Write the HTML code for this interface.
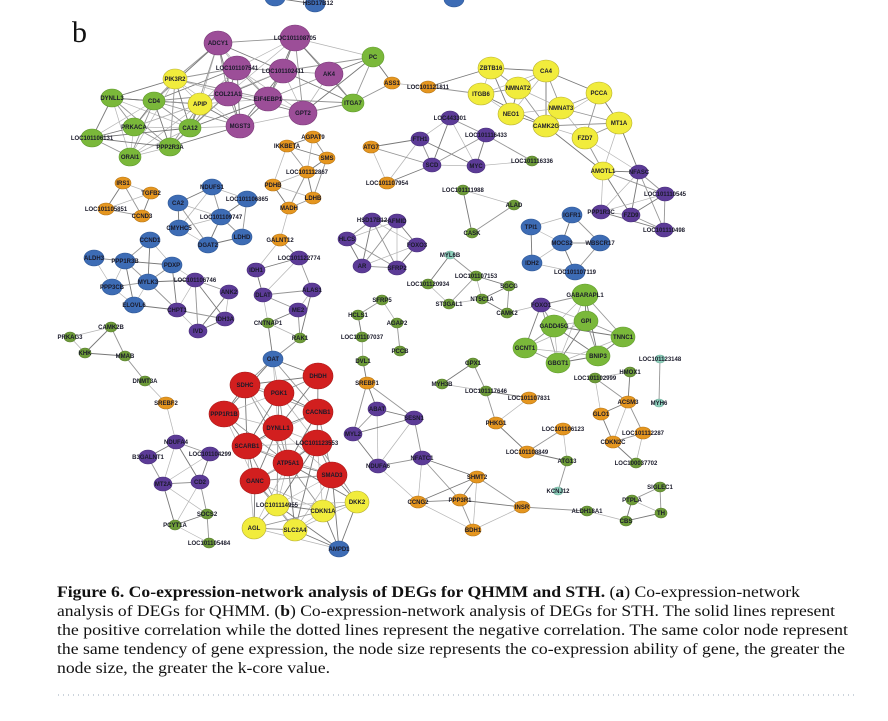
<!DOCTYPE html>
<html><head><meta charset="utf-8"><style>
html,body{margin:0;padding:0;background:#fff;width:888px;height:721px;overflow:hidden}
svg{display:block}
.n text{font-family:"Liberation Sans",sans-serif;font-weight:bold;font-size:6px;fill:#1a1a2a;text-anchor:middle}
ellipse{stroke-width:0.6}
.P{fill:#9c4e98;stroke:#7a3a78}.Y{fill:#f1ec3c;stroke:#b8b030}.G{fill:#7ab83a;stroke:#5f9a2c}
.O{fill:#e5961f;stroke:#b77514}.B{fill:#3d6cb5;stroke:#2c5594}.V{fill:#5c3b97;stroke:#452b78}
.R{fill:#d21f1f;stroke:#a51616}.T{fill:#8fd0bc;stroke:#6fb09c}.D{fill:#6d9b38;stroke:#557c28}
.cap{font-family:"Liberation Serif",serif;font-size:16px;fill:#111}
</style></head><body>
<svg id="s" width="888" height="721" viewBox="0 0 888 721" xmlns="http://www.w3.org/2000/svg">
<g id="edges" stroke="#9a9a9a" stroke-width="0.8" fill="none"></g>
<text x="72" y="42" font-family="Liberation Serif,serif" font-size="30" fill="#111">b</text>
<g class="n" id="top">
<ellipse class="B" cx="275" cy="-2" rx="10" ry="8"/><ellipse class="B" cx="315" cy="4" rx="10" ry="8"/><text x="318" y="5">HSD17B12</text>
<ellipse class="B" cx="454" cy="-1" rx="10" ry="8"/>
</g>
<g class="n" id="k1" data-t="100">
<ellipse class="P" cx="218" cy="43" rx="14" ry="12"/><text x="218" y="45">ADCY1</text>
<ellipse class="P" cx="295" cy="38" rx="15" ry="13"/><text x="295" y="40">LOC101108705</text>
<ellipse class="P" cx="237" cy="68" rx="14" ry="12"/><text x="237" y="70">LOC101107541</text>
<ellipse class="P" cx="283" cy="71" rx="14" ry="12"/><text x="283" y="73">LOC101102411</text>
<ellipse class="P" cx="329" cy="74" rx="14" ry="12"/><text x="329" y="76">AK4</text>
<ellipse class="P" cx="228" cy="94" rx="14" ry="12"/><text x="228" y="96">COL21A1</text>
<ellipse class="P" cx="268" cy="99" rx="14" ry="12"/><text x="268" y="101">EIF4EBP1</text>
<ellipse class="P" cx="303" cy="113" rx="14" ry="12"/><text x="303" y="115">GPT2</text>
<ellipse class="P" cx="240" cy="126" rx="14" ry="12"/><text x="240" y="128">MGST3</text>
<ellipse class="G" cx="373" cy="57" rx="11" ry="10"/><text x="373" y="59">PC</text>
<ellipse class="Y" cx="175" cy="79" rx="12" ry="10"/><text x="175" y="81">PIK3R2</text>
<ellipse class="Y" cx="200" cy="104" rx="12" ry="11"/><text x="200" y="106">APIP</text>
<ellipse class="G" cx="112" cy="98" rx="11" ry="9"/><text x="112" y="100">DYNLL3</text>
<ellipse class="G" cx="154" cy="101" rx="11" ry="9"/><text x="154" y="103">CD4</text>
<ellipse class="G" cx="134" cy="127" rx="11" ry="9"/><text x="134" y="129">PRKACA</text>
<ellipse class="G" cx="190" cy="128" rx="11" ry="9"/><text x="190" y="130">CA12</text>
<ellipse class="G" cx="92" cy="138" rx="11" ry="9"/><text x="92" y="140">LOC101106131</text>
<ellipse class="G" cx="170" cy="147" rx="11" ry="9"/><text x="170" y="149">PPP2R3A</text>
<ellipse class="G" cx="130" cy="157" rx="11" ry="9"/><text x="130" y="159">ORAI1</text>
<ellipse class="G" cx="353" cy="103" rx="11" ry="9"/><text x="353" y="105">ITGA7</text>
</g>
<g class="n" id="x1">
<ellipse class="O" cx="392" cy="83" rx="8" ry="6"/><text x="392" y="85">ASS1</text>
<ellipse class="O" cx="428" cy="87" rx="8" ry="6"/><text x="428" y="89">LOC101121811</text>
</g>
<g class="n" id="k2" data-t="45">
<ellipse class="O" cx="313" cy="137" rx="8" ry="6"/><text x="313" y="139">AGPAT9</text>
<ellipse class="O" cx="287" cy="146" rx="8" ry="6"/><text x="287" y="148">IKKBETA</text>
<ellipse class="O" cx="327" cy="158" rx="8" ry="6"/><text x="327" y="160">SMS</text>
<ellipse class="O" cx="307" cy="172" rx="8" ry="6"/><text x="307" y="174">LOC101112867</text>
<ellipse class="O" cx="273" cy="185" rx="8" ry="6"/><text x="273" y="187">PDHB</text>
<ellipse class="O" cx="313" cy="198" rx="8" ry="6"/><text x="313" y="200">LDHB</text>
<ellipse class="O" cx="289" cy="208" rx="8" ry="6"/><text x="289" y="210">MADH</text>
</g>
<g class="n" id="k3" data-t="50">
<ellipse class="O" cx="123" cy="183" rx="8" ry="6"/><text x="123" y="185">IRS1</text>
<ellipse class="O" cx="151" cy="193" rx="8" ry="6"/><text x="151" y="195">TGFB2</text>
<ellipse class="O" cx="106" cy="209" rx="8" ry="6"/><text x="106" y="211">LOC101105851</text>
<ellipse class="O" cx="142" cy="216" rx="8" ry="6"/><text x="142" y="218">CCND3</text>
</g>
<g class="n" id="k4" data-t="55">
<ellipse class="B" cx="212" cy="187" rx="10" ry="8"/><text x="212" y="189">NDUFS1</text>
<ellipse class="B" cx="247" cy="199" rx="10" ry="8"/><text x="247" y="201">LOC101106865</text>
<ellipse class="B" cx="178" cy="203" rx="10" ry="8"/><text x="178" y="205">CA2</text>
<ellipse class="B" cx="221" cy="217" rx="10" ry="8"/><text x="221" y="219">LOC101109747</text>
<ellipse class="B" cx="179" cy="228" rx="10" ry="8"/><text x="179" y="230">CMYHC5</text>
<ellipse class="B" cx="208" cy="245" rx="10" ry="8"/><text x="208" y="247">DGAT2</text>
<ellipse class="B" cx="242" cy="237" rx="10" ry="8"/><text x="242" y="239">LDHD</text>
</g>
<g class="n" id="k5" data-t="52">
<ellipse class="B" cx="150" cy="240" rx="10" ry="8"/><text x="150" y="242">CCND1</text>
<ellipse class="B" cx="94" cy="258" rx="10" ry="8"/><text x="94" y="260">ALDH3</text>
<ellipse class="B" cx="125" cy="261" rx="10" ry="8"/><text x="125" y="263">PPP1R3B</text>
<ellipse class="B" cx="172" cy="265" rx="10" ry="8"/><text x="172" y="267">PDXP</text>
<ellipse class="B" cx="148" cy="282" rx="10" ry="8"/><text x="148" y="284">MYLK3</text>
<ellipse class="B" cx="112" cy="287" rx="10" ry="8"/><text x="112" y="289">PPP3CB</text>
<ellipse class="B" cx="134" cy="305" rx="10" ry="8"/><text x="134" y="307">ELOVL6</text>
<ellipse class="V" cx="195" cy="280" rx="9" ry="7"/><text x="195" y="282">LOC101106746</text>
<ellipse class="V" cx="229" cy="292" rx="9" ry="7"/><text x="229" y="294">ANK2</text>
<ellipse class="V" cx="177" cy="310" rx="9" ry="7"/><text x="177" y="312">CHPT1</text>
<ellipse class="V" cx="225" cy="319" rx="9" ry="7"/><text x="225" y="321">IDH3A</text>
<ellipse class="V" cx="198" cy="331" rx="9" ry="7"/><text x="198" y="333">IVD</text>
</g>
<g class="n" id="k6" data-t="52">
<ellipse class="O" cx="280" cy="240" rx="8" ry="6"/><text x="280" y="242">GALNT12</text>
<ellipse class="V" cx="299" cy="258" rx="9" ry="7"/><text x="299" y="260">LOC101122774</text>
<ellipse class="V" cx="256" cy="270" rx="9" ry="7"/><text x="256" y="272">IDH1</text>
<ellipse class="V" cx="312" cy="290" rx="9" ry="7"/><text x="312" y="292">ALAS1</text>
<ellipse class="V" cx="263" cy="295" rx="9" ry="7"/><text x="263" y="297">DLAT</text>
<ellipse class="V" cx="298" cy="310" rx="9" ry="7"/><text x="298" y="312">ME2</text>
<ellipse class="D" cx="268" cy="323" rx="6" ry="5"/><text x="268" y="325">CNTNAP1</text>
<ellipse class="D" cx="300" cy="338" rx="6" ry="5"/><text x="300" y="340">RAK1</text>
</g>
<g class="n" id="k7" data-t="60">
<ellipse class="V" cx="372" cy="220" rx="9" ry="7"/><text x="372" y="222">HSD17B12</text>
<ellipse class="V" cx="397" cy="221" rx="9" ry="7"/><text x="397" y="223">AFMID</text>
<ellipse class="V" cx="347" cy="239" rx="9" ry="7"/><text x="347" y="241">HLCS</text>
<ellipse class="V" cx="417" cy="245" rx="9" ry="7"/><text x="417" y="247">FOXO3</text>
<ellipse class="V" cx="362" cy="266" rx="9" ry="7"/><text x="362" y="268">AR</text>
<ellipse class="V" cx="397" cy="268" rx="9" ry="7"/><text x="397" y="270">SFRP2</text>
</g>
<g class="n" id="k8" data-t="65">
<ellipse class="V" cx="450" cy="118" rx="9" ry="7"/><text x="450" y="120">LOC443301</text>
<ellipse class="V" cx="420" cy="139" rx="9" ry="7"/><text x="420" y="141">FTH1</text>
<ellipse class="O" cx="371" cy="147" rx="8" ry="6"/><text x="371" y="149">ATG7</text>
<ellipse class="V" cx="432" cy="165" rx="9" ry="7"/><text x="432" y="167">SCD</text>
<ellipse class="O" cx="387" cy="183" rx="8" ry="6"/><text x="387" y="185">LOC101107954</text>
<ellipse class="V" cx="486" cy="135" rx="9" ry="7"/><text x="486" y="137">LOC101116433</text>
<ellipse class="V" cx="476" cy="166" rx="9" ry="7"/><text x="476" y="168">MYC</text>
<ellipse class="D" cx="532" cy="161" rx="6" ry="5"/><text x="532" y="163">LOC101116336</text>
</g>
<g class="n" id="k9" data-t="75">
<ellipse class="Y" cx="491" cy="68" rx="13" ry="11"/><text x="491" y="70">ZBTB16</text>
<ellipse class="Y" cx="546" cy="71" rx="13" ry="11"/><text x="546" y="73">CA4</text>
<ellipse class="Y" cx="518" cy="88" rx="13" ry="11"/><text x="518" y="90">NMNAT2</text>
<ellipse class="Y" cx="481" cy="94" rx="13" ry="11"/><text x="481" y="96">ITGB6</text>
<ellipse class="Y" cx="599" cy="93" rx="13" ry="11"/><text x="599" y="95">PCCA</text>
<ellipse class="Y" cx="561" cy="108" rx="13" ry="11"/><text x="561" y="110">NMNAT3</text>
<ellipse class="Y" cx="511" cy="114" rx="13" ry="11"/><text x="511" y="116">NEO1</text>
<ellipse class="Y" cx="546" cy="126" rx="13" ry="11"/><text x="546" y="128">CAMK2G</text>
<ellipse class="Y" cx="619" cy="123" rx="13" ry="11"/><text x="619" y="125">MT1A</text>
<ellipse class="Y" cx="585" cy="138" rx="13" ry="11"/><text x="585" y="140">FZD7</text>
<ellipse class="Y" cx="603" cy="171" rx="11" ry="9"/><text x="603" y="173">AMOTL1</text>
<ellipse class="V" cx="639" cy="172" rx="9" ry="7"/><text x="639" y="174">NFASC</text>
<ellipse class="V" cx="665" cy="194" rx="9" ry="7"/><text x="665" y="196">LOC101110545</text>
<ellipse class="V" cx="601" cy="212" rx="9" ry="7"/><text x="601" y="214">PPP1R3C</text>
<ellipse class="V" cx="631" cy="215" rx="9" ry="7"/><text x="631" y="217">FZD9</text>
<ellipse class="V" cx="664" cy="230" rx="9" ry="7"/><text x="664" y="232">LOC101110498</text>
</g>
<g class="n" id="k10" data-t="55">
<ellipse class="D" cx="463" cy="190" rx="6" ry="5"/><text x="463" y="192">LOC101111988</text>
<ellipse class="D" cx="514" cy="205" rx="6" ry="5"/><text x="514" y="207">ALAD</text>
<ellipse class="D" cx="472" cy="233" rx="6" ry="5"/><text x="472" y="235">CASK</text>
</g>
<g class="n" id="k11" data-t="55">
<ellipse class="B" cx="572" cy="215" rx="10" ry="8"/><text x="572" y="217">IGFR1</text>
<ellipse class="B" cx="531" cy="227" rx="10" ry="8"/><text x="531" y="229">TPI1</text>
<ellipse class="B" cx="562" cy="243" rx="10" ry="8"/><text x="562" y="245">MOCS2</text>
<ellipse class="B" cx="600" cy="243" rx="10" ry="8"/><text x="600" y="245">WBSCR17</text>
<ellipse class="B" cx="532" cy="263" rx="10" ry="8"/><text x="532" y="265">IDH2</text>
<ellipse class="B" cx="575" cy="272" rx="10" ry="8"/><text x="575" y="274">LOC101107119</text>
</g>
<g class="n" id="k12" data-t="40">
<ellipse class="T" cx="450" cy="255" rx="5" ry="4"/><text x="450" y="257">MYL6B</text>
<ellipse class="D" cx="428" cy="284" rx="6" ry="5"/><text x="428" y="286">LOC101120934</text>
<ellipse class="D" cx="476" cy="276" rx="6" ry="5"/><text x="476" y="278">LOC101107153</text>
<ellipse class="D" cx="509" cy="286" rx="6" ry="5"/><text x="509" y="288">SGCG</text>
<ellipse class="D" cx="449" cy="304" rx="6" ry="5"/><text x="449" y="306">ST3GAL1</text>
<ellipse class="D" cx="482" cy="299" rx="6" ry="5"/><text x="482" y="301">NT5C1A</text>
<ellipse class="D" cx="507" cy="313" rx="6" ry="5"/><text x="507" y="315">CAMK2</text>
</g>
<g class="n" id="k13" data-t="75">
<ellipse class="G" cx="585" cy="295" rx="13" ry="11"/><text x="585" y="297">GABARAPL1</text>
<ellipse class="V" cx="541" cy="305" rx="9" ry="7"/><text x="541" y="307">FOXO1</text>
<ellipse class="G" cx="554" cy="326" rx="13" ry="11"/><text x="554" y="328">GADD45G</text>
<ellipse class="G" cx="586" cy="321" rx="12" ry="10"/><text x="586" y="323">GPI</text>
<ellipse class="G" cx="623" cy="337" rx="12" ry="10"/><text x="623" y="339">TNNC1</text>
<ellipse class="G" cx="525" cy="348" rx="12" ry="10"/><text x="525" y="350">GCNT1</text>
<ellipse class="G" cx="558" cy="363" rx="12" ry="10"/><text x="558" y="365">GBGT1</text>
<ellipse class="G" cx="598" cy="356" rx="12" ry="10"/><text x="598" y="358">BNIP3</text>
</g>
<g class="n" id="k14" data-t="36">
<ellipse class="D" cx="382" cy="300" rx="6" ry="5"/><text x="382" y="302">SFRP5</text>
<ellipse class="D" cx="358" cy="315" rx="6" ry="5"/><text x="358" y="317">HCLS1</text>
<ellipse class="D" cx="397" cy="323" rx="6" ry="5"/><text x="397" y="325">AGAP2</text>
<ellipse class="D" cx="362" cy="337" rx="6" ry="5"/><text x="362" y="339">LOC101107037</text>
<ellipse class="D" cx="400" cy="351" rx="6" ry="5"/><text x="400" y="353">PCCB</text>
<ellipse class="D" cx="363" cy="361" rx="6" ry="5"/><text x="363" y="363">DVL1</text>
</g>
<g class="n" id="k15" data-t="66">
<ellipse class="O" cx="367" cy="383" rx="8" ry="6"/><text x="367" y="385">SREBF1</text>
<ellipse class="V" cx="377" cy="409" rx="9" ry="7"/><text x="377" y="411">ABAT</text>
<ellipse class="V" cx="414" cy="418" rx="9" ry="7"/><text x="414" y="420">SESN1</text>
<ellipse class="V" cx="353" cy="434" rx="9" ry="7"/><text x="353" y="436">MYL2</text>
<ellipse class="V" cx="422" cy="458" rx="9" ry="7"/><text x="422" y="460">NFATC1</text>
<ellipse class="V" cx="378" cy="466" rx="9" ry="7"/><text x="378" y="468">NDUFA6</text>
<ellipse class="O" cx="418" cy="502" rx="8" ry="6"/><text x="418" y="504">CCNG2</text>
<ellipse class="O" cx="477" cy="477" rx="8" ry="6"/><text x="477" y="479">SHMT2</text>
<ellipse class="O" cx="460" cy="500" rx="8" ry="6"/><text x="460" y="502">PPP3R1</text>
<ellipse class="O" cx="522" cy="507" rx="8" ry="6"/><text x="522" y="509">INSR</text>
<ellipse class="O" cx="473" cy="530" rx="8" ry="6"/><text x="473" y="532">BDH1</text>
</g>
<g class="n" id="k16" data-t="46">
<ellipse class="D" cx="473" cy="363" rx="6" ry="5"/><text x="473" y="365">GPX1</text>
<ellipse class="D" cx="442" cy="384" rx="6" ry="5"/><text x="442" y="386">MYH3B</text>
<ellipse class="D" cx="486" cy="391" rx="6" ry="5"/><text x="486" y="393">LOC101117646</text>
<ellipse class="O" cx="529" cy="398" rx="8" ry="6"/><text x="529" y="400">LOC101107831</text>
<ellipse class="O" cx="496" cy="423" rx="8" ry="6"/><text x="496" y="425">PHKG1</text>
<ellipse class="O" cx="563" cy="429" rx="8" ry="6"/><text x="563" y="431">LOC101106123</text>
<ellipse class="O" cx="527" cy="452" rx="8" ry="6"/><text x="527" y="454">LOC101108849</text>
<ellipse class="D" cx="567" cy="461" rx="6" ry="5"/><text x="567" y="463">ATG13</text>
<ellipse class="T" cx="558" cy="491" rx="5" ry="4"/><text x="558" y="493">KCNJ12</text>
</g>
<g class="n" id="k17" data-t="45">
<ellipse class="D" cx="630" cy="372" rx="6" ry="5"/><text x="630" y="374">HMOX1</text>
<ellipse class="D" cx="595" cy="378" rx="6" ry="5"/><text x="595" y="380">LOC101102999</text>
<ellipse class="O" cx="628" cy="402" rx="8" ry="6"/><text x="628" y="404">ACSM3</text>
<ellipse class="O" cx="601" cy="414" rx="8" ry="6"/><text x="601" y="416">GLO1</text>
<ellipse class="O" cx="643" cy="433" rx="8" ry="6"/><text x="643" y="435">LOC101112287</text>
<ellipse class="O" cx="613" cy="442" rx="8" ry="6"/><text x="613" y="444">CDKN2C</text>
<ellipse class="D" cx="636" cy="463" rx="6" ry="5"/><text x="636" y="465">LOC100037702</text>
</g>
<g class="n" id="k18" data-t="50">
<ellipse class="T" cx="660" cy="359" rx="5" ry="4"/><text x="660" y="361">LOC101123148</text>
<ellipse class="T" cx="659" cy="403" rx="5" ry="4"/><text x="659" y="405">MYH6</text>
</g>
<g class="n" id="k19" data-t="45">
<ellipse class="D" cx="587" cy="511" rx="6" ry="5"/><text x="587" y="513">ALDH18A1</text>
<ellipse class="D" cx="632" cy="500" rx="6" ry="5"/><text x="632" y="502">PTPLA</text>
<ellipse class="D" cx="626" cy="521" rx="6" ry="5"/><text x="626" y="523">CBS</text>
<ellipse class="D" cx="660" cy="487" rx="6" ry="5"/><text x="660" y="489">SIGLEC1</text>
<ellipse class="D" cx="661" cy="513" rx="6" ry="5"/><text x="661" y="515">TH</text>
</g>
<g class="n" id="k20" data-t="45">
<ellipse class="D" cx="111" cy="327" rx="6" ry="5"/><text x="111" y="329">CAMK2B</text>
<ellipse class="D" cx="70" cy="337" rx="6" ry="5"/><text x="70" y="339">PRKAG3</text>
<ellipse class="D" cx="85" cy="353" rx="6" ry="5"/><text x="85" y="355">KHK</text>
<ellipse class="D" cx="125" cy="356" rx="6" ry="5"/><text x="125" y="358">MMAB</text>
<ellipse class="D" cx="145" cy="381" rx="6" ry="5"/><text x="145" y="383">DNMT3A</text>
</g>
<g class="n" id="k21" data-t="56">
<ellipse class="O" cx="166" cy="403" rx="8" ry="6"/><text x="166" y="405">SREBF2</text>
<ellipse class="V" cx="176" cy="442" rx="9" ry="7"/><text x="176" y="444">NDUFA4</text>
<ellipse class="V" cx="148" cy="457" rx="9" ry="7"/><text x="148" y="459">B3GALNT1</text>
<ellipse class="V" cx="210" cy="454" rx="9" ry="7"/><text x="210" y="456">LOC101104299</text>
<ellipse class="V" cx="163" cy="484" rx="9" ry="7"/><text x="163" y="486">MT2A</text>
<ellipse class="V" cx="200" cy="482" rx="9" ry="7"/><text x="200" y="484">CD2</text>
<ellipse class="D" cx="207" cy="514" rx="6" ry="5"/><text x="207" y="516">SOCS2</text>
<ellipse class="D" cx="175" cy="525" rx="6" ry="5"/><text x="175" y="527">PCYT1A</text>
<ellipse class="D" cx="209" cy="543" rx="6" ry="5"/><text x="209" y="545">LOC101105484</text>
</g>
<g class="n" id="k22" data-t="90">
<ellipse class="B" cx="273" cy="359" rx="10" ry="8"/><text x="273" y="361">OAT</text>
<ellipse class="R" cx="318" cy="376" rx="15" ry="13"/><text x="318" y="378">DHDH</text>
<ellipse class="R" cx="245" cy="385" rx="15" ry="13"/><text x="245" y="387">SDHC</text>
<ellipse class="R" cx="279" cy="393" rx="15" ry="13"/><text x="279" y="395">PGK1</text>
<ellipse class="R" cx="224" cy="414" rx="15" ry="13"/><text x="224" y="416">PPP1R1B</text>
<ellipse class="R" cx="318" cy="412" rx="15" ry="13"/><text x="318" y="414">CACNB1</text>
<ellipse class="R" cx="278" cy="428" rx="15" ry="13"/><text x="278" y="430">DYNLL1</text>
<ellipse class="R" cx="317" cy="443" rx="15" ry="13"/><text x="317" y="445">LOC101123553</text>
<ellipse class="R" cx="247" cy="446" rx="15" ry="13"/><text x="247" y="448">SCARB1</text>
<ellipse class="R" cx="288" cy="463" rx="15" ry="13"/><text x="288" y="465">ATP5A1</text>
<ellipse class="R" cx="332" cy="475" rx="15" ry="13"/><text x="332" y="477">SMAD3</text>
<ellipse class="R" cx="255" cy="481" rx="15" ry="13"/><text x="255" y="483">GANC</text>
<ellipse class="Y" cx="277" cy="505" rx="12" ry="11"/><text x="277" y="507">LOC101114955</text>
<ellipse class="Y" cx="357" cy="502" rx="12" ry="11"/><text x="357" y="504">DKK2</text>
<ellipse class="Y" cx="323" cy="511" rx="12" ry="11"/><text x="323" y="513">CDKN1A</text>
<ellipse class="Y" cx="254" cy="528" rx="12" ry="11"/><text x="254" y="530">AGL</text>
<ellipse class="Y" cx="295" cy="530" rx="12" ry="11"/><text x="295" y="532">SLC2A4</text>
<ellipse class="B" cx="339" cy="549" rx="10" ry="8"/><text x="339" y="551">AMPD1</text>
</g>
<g>
<text class="cap" x="57" y="597" textLength="743" lengthAdjust="spacingAndGlyphs"><tspan font-weight="bold">Figure 6.  Co-expression-network analysis of DEGs for QHMM and STH.</tspan> (<tspan font-weight="bold">a</tspan>) Co-expression-network</text>
<text class="cap" x="57" y="616" textLength="778" lengthAdjust="spacingAndGlyphs">analysis of DEGs for QHMM. (<tspan font-weight="bold">b</tspan>) Co-expression-network analysis of DEGs for STH. The solid lines represent</text>
<text class="cap" x="57" y="635" textLength="791" lengthAdjust="spacingAndGlyphs">the positive correlation while the dotted lines represent the negative correlation. The same color node represent</text>
<text class="cap" x="57" y="654" textLength="788" lengthAdjust="spacingAndGlyphs">the same tendency of gene expression, the node size represents the co-expression ability of gene, the greater the</text>
<text class="cap" x="57" y="673" textLength="273" lengthAdjust="spacingAndGlyphs">node size, the greater the k-core value.</text>
<line x1="58" y1="695" x2="855" y2="695" stroke="#9aa8b8" stroke-width="1" stroke-dasharray="1 4"/>
</g>
</svg>
<script>
(function(){
var E=document.getElementById('edges'),NS='http://www.w3.org/2000/svg';
function ln(a,b,c,d,i){var l=document.createElementNS(NS,'line');l.setAttribute('x1',a);l.setAttribute('y1',b);l.setAttribute('x2',c);l.setAttribute('y2',d);
 var s=['#777777','#959595','#b3b3b3'][i%3];l.setAttribute('stroke',s);l.setAttribute('stroke-width',i%3==2?0.7:0.9);E.appendChild(l);}
var groups=document.querySelectorAll('g[data-t]');var cnt=0;
for(var g=0;g<groups.length;g++){var t=+groups[g].getAttribute('data-t');var el=groups[g].querySelectorAll('ellipse');
 for(var i=0;i<el.length;i++)for(var j=i+1;j<el.length;j++){var ax=+el[i].getAttribute('cx'),ay=+el[i].getAttribute('cy'),bx=+el[j].getAttribute('cx'),by=+el[j].getAttribute('cy');
  var d=Math.hypot(ax-bx,ay-by);if(d<t){cnt++;ln(ax,ay,bx,by,cnt);}}}
var X=[[392,83,373,57],[392,83,353,103],[392,83,428,87],[428,87,491,68],[428,87,481,94],[289,208,280,240],[268,323,273,359],[300,338,273,359],
[145,381,166,403],[363,361,367,383],[522,507,587,511],[507,313,541,305],[275,-2,315,4],[367,383,353,434]];
for(var k=0;k<X.length;k++)ln(X[k][0],X[k][1],X[k][2],X[k][3],k);
})();
</script>
</body></html>
